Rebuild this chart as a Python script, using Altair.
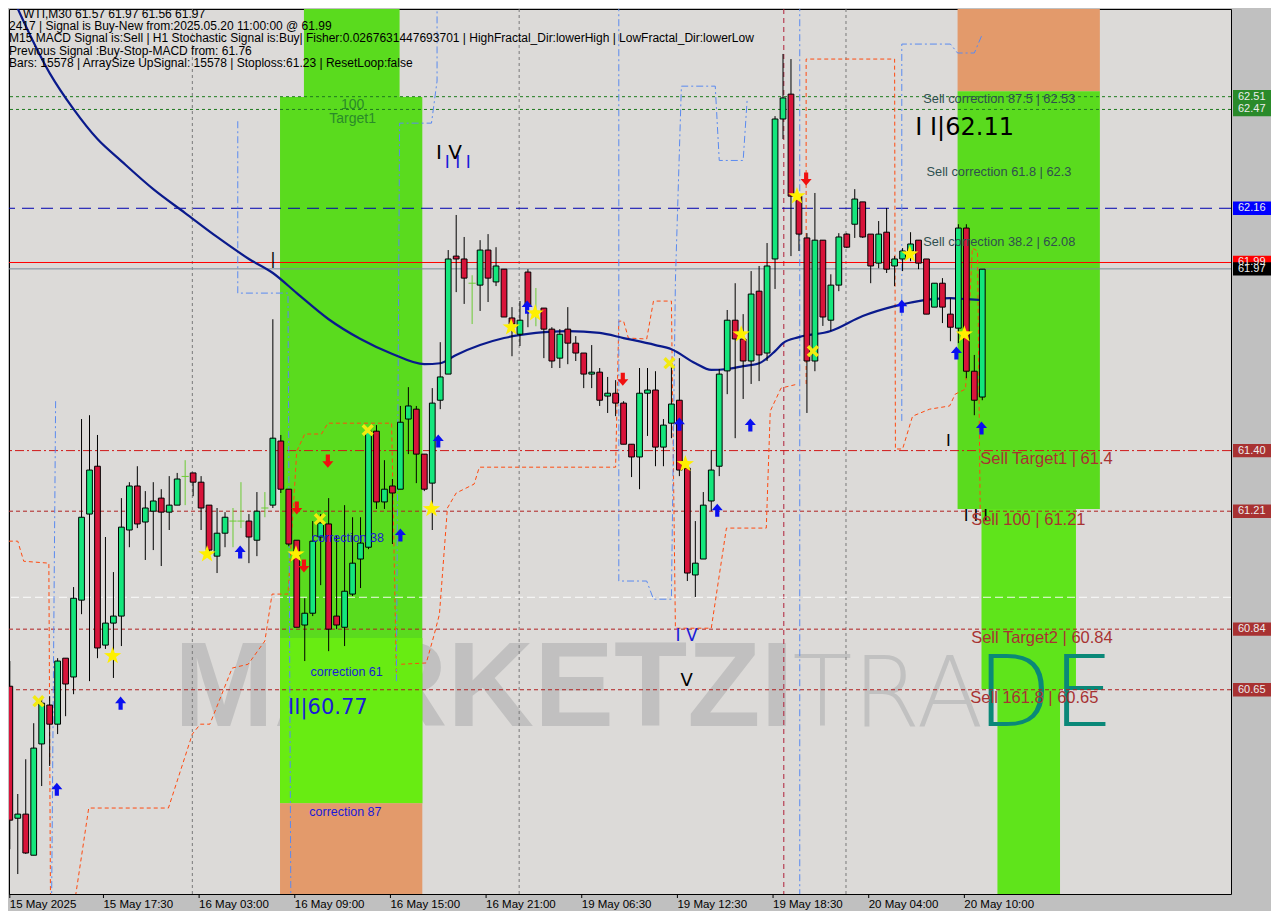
import altair as alt
import pandas as pd

# ---------------- candles (bar index, OHLC) ----------------
opens = [60.661,60.247,60.260,60.131,60.480,60.602,60.542,60.749,60.690,60.931,
         61.201,61.351,60.790,60.859,60.881,61.151,61.289,61.176,61.210,61.251,
         61.207,61.229,61.319,61.330,61.301,61.229,61.069,61.141,61.179,61.179,
         61.179,61.119,61.220,61.229,61.430,61.279,61.119,60.853,60.890,61.129,
         61.170,60.881,60.846,60.950,61.060,61.097,61.461,61.239,61.289,61.279,
         61.499,61.530,61.389,61.298,61.558,61.640,62.010,62.001,61.925,61.919,
         62.029,61.929,61.969,61.816,61.765,61.960,61.837,61.847,61.781,61.690,
         61.781,61.737,61.706,61.640,61.646,61.571,61.580,61.549,61.420,61.380,
         61.580,61.590,61.411,61.486,61.558,61.345,61.010,61.060,61.242,61.351,
         61.650,61.809,61.750,61.681,61.900,61.706,62.001,62.440,62.518,62.198,
         62.067,61.681,62.060,61.809,61.919,62.079,62.110,62.180,62.079,61.988,
         62.085,61.979,62.001,62.026,62.060,62.001,61.850,61.925,61.828,61.784,
         62.098,61.649,61.568]
highs = [60.740,60.323,60.432,60.545,60.630,60.630,60.749,60.749,60.972,61.499,
         61.511,61.449,61.129,61.019,61.251,61.301,61.351,61.273,61.301,61.279,
         61.320,61.330,61.370,61.330,61.320,61.229,61.220,61.207,61.220,61.301,
         61.201,61.270,61.270,61.812,61.449,61.279,61.119,60.937,61.179,61.201,
         61.251,61.132,61.229,61.191,61.191,61.471,61.480,61.370,61.311,61.540,
         61.599,61.540,61.389,61.596,61.740,62.029,62.139,62.070,61.950,62.060,
         62.079,62.038,61.969,61.850,61.869,61.969,61.910,61.847,61.787,61.781,
         61.850,61.759,61.706,61.731,61.659,61.631,61.621,61.555,61.420,61.659,
         61.659,61.649,61.499,61.662,61.690,61.351,61.179,61.270,61.402,61.656,
         61.841,61.925,61.828,61.963,61.979,62.051,62.449,62.644,62.628,62.198,
         62.082,62.208,62.060,61.953,62.082,62.082,62.220,62.180,62.079,62.120,
         62.161,62.010,62.035,62.085,62.060,62.001,61.925,61.941,61.878,62.110,
         62.110,61.700,61.969]
lows = [60.150,60.072,60.135,60.131,60.348,60.411,60.511,60.567,60.636,60.887,
        60.677,60.749,60.778,60.687,60.787,61.097,61.157,61.057,61.088,61.038,
        61.151,61.229,61.229,61.257,61.151,61.072,61.016,61.097,61.097,61.157,
        61.047,61.069,61.191,61.220,61.267,61.100,60.846,60.740,60.881,60.978,
        60.771,60.840,60.787,60.944,60.969,61.091,61.217,61.217,61.107,61.279,
        61.389,61.298,61.273,61.151,61.530,61.640,61.897,61.860,61.797,61.838,
        61.866,61.916,61.819,61.696,61.728,61.787,61.790,61.690,61.659,61.659,
        61.671,61.681,61.596,61.596,61.540,61.518,61.508,61.420,61.317,61.279,
        61.446,61.351,61.351,61.439,61.320,60.991,60.941,61.060,61.210,61.320,
        61.577,61.439,61.562,61.609,61.618,61.681,61.907,62.377,62.010,62.026,
        61.518,61.649,61.791,61.775,61.900,62.035,62.067,62.067,61.925,61.972,
        61.957,61.916,61.963,61.994,61.969,61.828,61.850,61.800,61.743,61.737,
        61.627,61.511,61.558]
closes = [60.241,60.260,60.138,60.467,60.608,60.542,60.740,60.668,60.937,61.191,
          61.339,60.781,60.859,60.881,61.160,61.289,61.170,61.220,61.242,61.207,
          61.229,61.311,61.319,61.301,61.220,61.088,61.141,61.191,61.179,61.179,
          61.129,61.210,61.220,61.439,61.279,61.107,60.846,60.890,61.116,61.173,
          60.840,60.853,60.959,61.047,61.110,61.461,61.239,61.279,61.267,61.489,
          61.540,61.389,61.279,61.549,61.631,62.001,62.001,61.941,61.925,62.029,
          61.941,61.979,61.819,61.797,61.809,61.853,61.837,61.781,61.681,61.765,
          61.737,61.706,61.640,61.646,61.558,61.580,61.549,61.420,61.380,61.580,
          61.590,61.411,61.480,61.546,61.339,61.016,61.047,61.229,61.339,61.640,
          61.809,61.750,61.681,61.891,61.700,61.979,62.440,62.506,62.198,62.079,
          61.681,62.060,61.819,61.919,62.070,62.038,62.189,62.070,61.979,62.079,
          61.969,62.001,62.026,62.048,61.988,61.828,61.925,61.850,61.787,62.098,
          61.649,61.558,61.969]
bar_index = list(range(len(opens)))

# moving average (bar index, price)
ma_index = [0,5,8,11,14,18,22,26,30,33,36,40,44,48,52,54,56,59,62,66,
            70,74,77,81,83,86,88,90,92,94,96,97,99,103,107,111,114,118,120,122]
ma_values = [62.841,62.584,62.471,62.377,62.308,62.220,62.145,62.070,62.001,61.957,
             61.894,61.812,61.750,61.703,61.671,61.674,61.700,61.731,61.753,61.769,
             61.775,61.769,61.753,61.731,61.718,61.674,61.653,61.656,61.665,61.674,
             61.712,61.737,61.756,61.775,61.822,61.853,61.869,61.878,61.875,61.872]

# orange stop/channel line (segment, bar index, price)
orange_seg = [1]*5 + [2]*17 + [3]*22 + [4]*13
orange_i = [-0.12,1,1.75,4.9,5.1,
            8.25,9.9,19.9,22.9,23.9,25.1,27.9,29.9,32,32.9,34.9,36,37,39.1,39.9,47.9,48.5,
            49.1,52.25,53.25,53.9,54.9,56,58.25,58.9,76,76.4,77,77.6,79.9,80.75,83,83.5,88,89.9,94.9,95.4,96.75,98.9,
            99.9,99.9,111,111.1,112,113.25,115.4,117.9,118.6,119.9,120.75,121.4,121.75]
orange_p = [61.116,61.116,61.053,61.047,60.003,
            60.003,60.279,60.279,60.511,60.542,60.542,60.718,60.730,60.803,60.950,60.950,61.398,61.452,61.452,61.486,61.486,60.693,
            60.730,60.734,60.824,60.887,61.220,61.267,61.295,61.348,61.348,61.806,61.806,61.753,61.750,61.869,61.869,60.843,60.843,61.157,61.157,61.524,61.596,61.609,
            61.609,62.628,62.628,61.405,61.405,61.508,61.530,61.540,61.577,61.593,62.035,62.026,61.179]

# blue fractal line (segment, bar index, price)
blue_seg = [1]*2 + [2]*4 + [3]*5 + [4]*11 + [5]*2 + [6]*6
blue_i = [5.75,5.25,
          28.6,28.6,34.9,35.25,
          48.5,48.9,52.9,53.6,53.6,
          76.4,76.4,79.9,80.75,83,83.5,84.25,88.5,89,92,92.5,
          99.1,99.1,
          111.9,111.9,118,118.9,121,122]
blue_p = [61.555,60.003,
          62.433,61.894,61.894,60.009,
          60.677,62.427,62.427,62.559,62.80,
          62.80,60.991,60.991,60.934,60.934,61.932,62.543,62.543,62.310,62.310,62.500,
          62.80,60.003,
          61.493,62.675,62.675,62.647,62.647,62.706]

# vertical separators (bar index)
day_separators = [22.9, 63.9, 104.9]
signal_vline = [97.1]

# horizontal levels
green_levels = [62.51, 62.47]
navy_levels = [62.16]
red_levels = [61.99]
grey_levels = [61.97]
target1_levels = [61.40]
sell_levels = [61.21, 60.84, 60.65]
white_levels = [60.94]

# zones
zone_i0 = [33.9, 33.9, 36.9, 33.9, 118.9, 118.9, 121.9, 123.9]
zone_i1 = [51.75, 51.75, 48.9, 51.75, 136.75, 136.75, 133.75, 131.75]
zone_p0 = [60.294, 60.294, 62.509, 60.0, 62.527, 61.217, 60.652, 60.0]
zone_p1 = [62.509, 60.812, 62.785, 60.294, 62.785, 62.527, 61.217, 60.652]
zone_col = ["#5ADB1E", "#68EC12", "#5ADB1E", "#E39A6B", "#E39A6B", "#5ADB1E", "#5FE41B", "#5FE41B"]

# signals
up_i = [5.9, 13.9, 28.9, 49, 53.75, 64.9, 84, 88.75, 92.9, 111.9, 118.75, 121.9]
up_p = [60.338, 60.608, 61.082, 61.135, 61.430, 61.850, 61.483, 61.213, 61.480, 61.853, 61.706, 61.471]
down_i = [36, 39.9, 36.9, 76.9, 99.9]
down_p = [61.220, 61.367, 61.038, 61.624, 62.252]
star_i = [12.9, 24.75, 35.9, 52.9, 62.9, 65.9, 84.75, 91.75, 98.75, 112.9, 119.75]
star_p = [60.756, 61.075, 61.075, 61.217, 61.787, 61.831, 61.358, 61.765, 62.198, 62.016, 61.765]
cross_i = [3.6, 38.9, 44.9, 82.75, 100.75]
cross_p = [60.614, 61.185, 61.464, 61.674, 61.712]

# axis
price_ticks = [60.1, 60.3, 60.5, 60.7, 60.9, 61.1, 61.3, 61.5, 61.7, 61.9, 62.1, 62.3, 62.7]
date_labels = ["15 May 2025", "15 May 17:30", "16 May 03:00", "16 May 09:00", "16 May 15:00",
               "16 May 21:00", "19 May 06:30", "19 May 12:30", "19 May 18:30", "20 May 04:00", "20 May 10:00"]
date_tick_index = [0, 11.75, 23.75, 35.75, 47.75, 59.75, 71.75, 83.75, 95.75, 107.75, 119.75]
box_prices = [62.51, 62.47, 62.16, 61.99, 61.97, 61.40, 61.21, 60.84, 60.65]
box_colors = ["#2A8A2A", "#2A8A2A", "#0000FF", "#FF0000", "#000000", "#A83232", "#A83232", "#A83232", "#A83232"]

header_lines = [
    "WTI,M30  61.57 61.97 61.56 61.97",
    "2417 | Signal is Buy-New from:2025.05.20 11:00:00 @ 61.99",
    "M15 MACD Signal is:Sell | H1 Stochastic Signal is:Buy| Fisher:0.0267631447693701 | HighFractal_Dir:lowerHigh | LowFractal_Dir:lowerLow",
    "Previous Signal :Buy-Stop-MACD from: 61.76",
    "Bars: 15578 | ArraySize UpSignal: 15578 | Stoploss:61.23 | ResetLoop:false",
]
header_x = [14, 0, 0, 0, 0]
header_y = [0, 11.5, 24, 36.5, 48.5]

# ---------------- chart ----------------
W, H = 1222, 885
XS = alt.Scale(domain=[-0.1, 153.2], nice=False, zero=False)
YS = alt.Scale(domain=[60.0094, 62.785], nice=False, zero=False)
FONT = "Liberation Sans"


def X(f, **kw):
    return alt.X(f, type="quantitative", scale=XS, axis=None, **kw)


def Y(f, **kw):
    return alt.Y(f, type="quantitative", scale=YS, axis=None, **kw)


candles = pd.DataFrame({"i": bar_index, "open": opens, "high": highs, "low": lows, "close": closes})
candles["top"] = candles[["open", "close"]].max(axis=1)
candles["bot"] = candles[["open", "close"]].min(axis=1)
candles["dir"] = ["up" if c > o + 0.001 else ("down" if c < o - 0.001 else "doji")
                  for o, c in zip(opens, closes)]

yaxis = alt.Axis(orient="right", values=price_ticks, format=".2f", labelFont=FONT,
                 labelFontSize=11, labelColor="black", tickColor="black", tickSize=4,
                 domainColor="black", grid=False, title=None, labelPadding=3,
                 labelOverlap=False, labelFlush=False)

layers = []

# axes carrier (invisible)
layers.append(alt.Chart(candles).mark_point(opacity=0, size=1, clip=True).encode(
    x=X("i"), y=alt.Y("close:Q", scale=YS, axis=yaxis)))

# watermark (under the zones)
wm = pd.DataFrame({"i": [20.6], "p": [60.536], "t": ["MARKETZI"]})
layers.append(alt.Chart(wm).mark_text(align="left", baseline="alphabetic", font=FONT, fontSize=120,
                                      fontWeight="bold", color="#B8B8B8", opacity=0.75).encode(
    x=X("i"), y=Y("p"), text="t:N"))
wm2 = pd.DataFrame({"i": [98.2], "p": [60.536], "t": ["TRA"]})
layers.append(alt.Chart(wm2).mark_text(align="left", baseline="alphabetic", font="DejaVu Sans",
                                       fontSize=98, fontWeight=200, color="#BDBDBD", opacity=0.85).encode(
    x=X("i"), y=Y("p"), text="t:N"))

# zones
zones = pd.DataFrame({"i0": zone_i0, "i1": zone_i1, "p0": zone_p0, "p1": zone_p1, "c": zone_col})
layers.append(alt.Chart(zones).mark_rect(clip=True).encode(
    x=X("i0"), x2="i1:Q", y=Y("p0"), y2="p1:Q", color=alt.Color("c:N", scale=None)))

# teal "DE" over the green column
wm3 = pd.DataFrame({"i": [121.3], "p": [60.536], "t": ["DE"]})
layers.append(alt.Chart(wm3).mark_text(align="left", baseline="alphabetic", font="DejaVu Sans",
                                       fontSize=98, fontWeight=200, color="#0A8878").encode(
    x=X("i"), y=Y("p"), text="t:N"))

# vertical separators
layers.append(alt.Chart(pd.DataFrame({"i": day_separators})).mark_rule(
    color="#7A7A7A", strokeDash=[3, 3], strokeWidth=1).encode(x=X("i")))
layers.append(alt.Chart(pd.DataFrame({"i": signal_vline})).mark_rule(
    color="#B0203A", strokeDash=[5, 4], strokeWidth=1).encode(x=X("i")))


def hl(vals, color, dash, width=1, opacity=1.0):
    d = alt.Chart(pd.DataFrame({"p": vals}))
    kw = dict(color=color, strokeWidth=width, opacity=opacity)
    if dash:
        kw["strokeDash"] = dash
    return d.mark_rule(**kw).encode(y=Y("p"))


layers.append(hl(white_levels, "#FFFFFF", [8, 4], 1, 0.9))
layers.append(hl(green_levels, "#1E7A1E", [3, 3]))
layers.append(hl(navy_levels, "#0000B0", [12, 7]))
layers.append(hl(red_levels, "#FF0000", None))
layers.append(hl(grey_levels, "#7A8A99", None))
layers.append(hl(target1_levels, "#D01818", [9, 3, 2, 3]))
layers.append(hl(sell_levels, "#B02020", [4, 3]))

# dashed channel lines
orange = pd.DataFrame({"s": orange_seg, "i": orange_i, "p": orange_p})
orange["k"] = range(len(orange))
layers.append(alt.Chart(orange).mark_line(color="#FF4A10", strokeDash=[4, 3], strokeWidth=1,
                                          clip=True).encode(
    x=X("i"), y=Y("p"), detail="s:N", order="k:Q"))
blue = pd.DataFrame({"s": blue_seg, "i": blue_i, "p": blue_p})
blue["k"] = range(len(blue))
layers.append(alt.Chart(blue).mark_line(color="#5A8AF0", strokeDash=[7, 3, 2, 3], strokeWidth=1,
                                        clip=True).encode(
    x=X("i"), y=Y("p"), detail="s:N", order="k:Q"))

# moving average
ma = pd.DataFrame({"i": ma_index, "p": ma_values})
layers.append(alt.Chart(ma).mark_line(color="#0A1A8C", strokeWidth=2.2, clip=True,
                                      interpolate="monotone").encode(x=X("i"), y=Y("p")))

# candles
cbase = alt.Chart(candles)
layers.append(cbase.transform_filter("datum.dir != 'doji'").mark_rule(
    color="black", strokeWidth=1, clip=True).encode(x=X("i"), y=Y("low"), y2="high:Q"))
layers.append(cbase.transform_filter("datum.dir == 'doji'").mark_rule(
    color="#6CCB35", strokeWidth=1, clip=True).encode(x=X("i"), y=Y("low"), y2="high:Q"))
layers.append(cbase.transform_filter("datum.dir != 'doji'").transform_calculate(
    x1="datum.i - 0.36", x2="datum.i + 0.36").mark_rect(stroke="black", strokeWidth=1, clip=True).encode(
    x=X("x1"), x2="x2:Q", y=Y("top"), y2="bot:Q",
    color=alt.Color("dir:N", scale=alt.Scale(domain=["up", "down"], range=["#14E67C", "#D8143A"]),
                    legend=None)))
layers.append(cbase.transform_filter("datum.dir == 'doji'").transform_calculate(
    x1="datum.i - 0.45", x2="datum.i + 0.45").mark_rule(color="#6CCB35", strokeWidth=1, clip=True).encode(
    x=X("x1"), x2="x2:Q", y=Y("top")))

# signal markers
UP = "M0,-1L0.85,0L0.32,0L0.32,1L-0.32,1L-0.32,0L-0.85,0Z"
DOWN = "M0,1L0.85,0L0.32,0L0.32,-1L-0.32,-1L-0.32,0L-0.85,0Z"
STAR = ("M0,-1L0.235,-0.324L0.951,-0.309L0.380,0.124L0.588,0.809L0,0.4L-0.588,0.809"
        "L-0.380,0.124L-0.951,-0.309L-0.235,-0.324Z")
XMARK = "M-1,-0.6L-0.6,-1L0,-0.4L0.6,-1L1,-0.6L0.4,0L1,0.6L0.6,1L0,0.4L-0.6,1L-1,0.6L-0.4,0Z"


def markers(ii, pp, shape, color, size):
    return alt.Chart(pd.DataFrame({"i": ii, "p": pp})).mark_point(
        shape=shape, filled=True, color=color, size=size, opacity=1).encode(x=X("i"), y=Y("p"))


layers.append(markers(up_i, up_p, UP, "#0A10F0", 170))
layers.append(markers(down_i, down_p, DOWN, "#F01010", 170))
layers.append(markers(star_i, star_p, STAR, "#FFF000", 330))
layers.append(markers(cross_i, cross_p, XMARK, "#F2EA10", 150))


# annotations
def ann(texts, ii, pp, color, size, align="left", font=FONT, weight="normal"):
    return alt.Chart(pd.DataFrame({"t": texts, "i": ii, "p": pp})).mark_text(
        align=align, baseline="middle", font=font, fontSize=size, color=color,
        fontWeight=weight).encode(x=X("i"), y=Y("p"), text="t:N")


layers.append(ann(["100", "Target1"], [43, 43], [62.484, 62.440], "#2A8A2A", 14, "center"))
layers.append(ann(["correction 38", "correction 61", "correction 87"], [42.4, 42.25, 42.1],
                  [61.126, 60.705, 60.266], "#1A1AD8", 12.5, "center"))
layers.append(ann(["II|60.77"], [39.9], [60.592], "#1A1AD8", 21, "center", "DejaVu Sans"))
layers.append(ann(["I I I"], [56.2], [62.302], "#1A1AD8", 17, "center", "DejaVu Sans"))
layers.append(ann(["I V"], [55.1], [62.333], "#000000", 20, "center", "DejaVu Sans"))
layers.append(ann(["I V"], [84.9], [60.818], "#1A1AD8", 17, "center", "DejaVu Sans"))
layers.append(ann(["V"], [84.9], [60.677], "#000000", 18, "center", "DejaVu Sans"))
layers.append(ann(["|", "I", "I I I"], [33, 117.75, 121.2], [62.00, 61.430, 61.195], "#000000", 16,
                  "center", "DejaVu Sans"))
layers.append(ann(["I I|62.11"], [113.6], [62.412], "#000000", 24, "left", "DejaVu Sans"))
layers.append(ann(["Sell correction 87.5 | 62.53", "Sell correction 61.8 | 62.3", "Sell correction 38.2 | 62.08"],
                  [114.6, 115.0, 114.6], [62.502, 62.273, 62.054], "#2F4F4F", 12.8))
layers.append(ann(["Sell Target1 | 61.4", "Sell 100 | 61.21", "Sell Target2 | 60.84", "Sell 161.8 | 60.65"],
                  [121.75, 120.6, 120.6, 120.5], [61.374, 61.182, 60.812, 60.624], "#A83232", 16.5))

# header (pixel placed text block)
for t, hx, hy in zip(header_lines, header_x, header_y):
    layers.append(alt.Chart(pd.DataFrame({"t": [t]})).mark_text(
        align="left", baseline="top", font=FONT, fontSize=12, color="black").encode(
        x=alt.value(hx), y=alt.value(hy), text="t:N"))

# bottom time axis (ticks + labels below the plot)
dates = pd.DataFrame({"i": date_tick_index, "t": date_labels})
layers.append(alt.Chart(dates).mark_rule(color="black", strokeWidth=1).encode(
    x=X("i"), y=alt.value(H), y2=alt.value(H + 4)))
layers.append(alt.Chart(dates).mark_text(align="left", baseline="top", font=FONT, fontSize=11.5,
                                         color="black", dx=0).encode(
    x=X("i"), y=alt.value(H + 5), text="t:N"))

# right-axis price boxes
boxes = pd.DataFrame({"p": box_prices, "c": box_colors, "t": ["%.2f" % v for v in box_prices]})
boxes["p0"] = boxes["p"] - 0.021
boxes["p1"] = boxes["p"] + 0.021
layers.append(alt.Chart(boxes).mark_rect().encode(
    x=alt.value(W + 2), x2=alt.value(W + 40), y=Y("p0"), y2="p1:Q", color=alt.Color("c:N", scale=None)))
layers.append(alt.Chart(boxes).mark_text(align="left", baseline="middle", font=FONT, fontSize=11,
                                         color="#EDEDED").encode(
    x=alt.value(W + 7), y=Y("p"), text="t:N"))

chart = alt.layer(*layers).properties(
    width=W, height=H, padding=0, background="#C0C0C0"
).configure_view(fill="#DCDAD8", stroke="black", strokeWidth=1)

chart.save("out.html", embed_options={"renderer": "svg", "actions": False})
